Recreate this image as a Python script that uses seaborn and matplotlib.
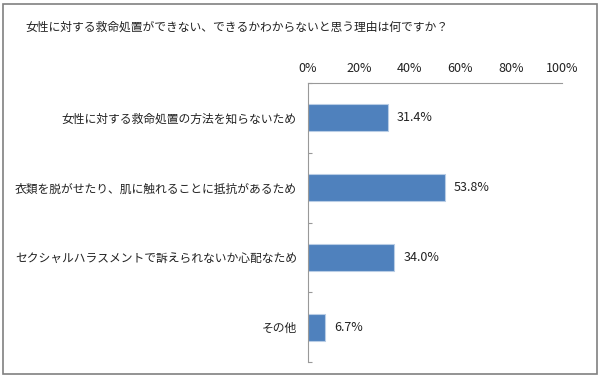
import pandas as pd
import seaborn as sns
import matplotlib.pyplot as plt
from matplotlib.patches import Rectangle
from matplotlib.ticker import FuncFormatter

title = "女性に対する救命処置ができない、できるかわからないと思う理由は何ですか？"
reasons = [
    "女性に対する救命処置の方法を知らないため",
    "衣類を脱がせたり、肌に触れることに抵抗があるため",
    "セクシャルハラスメントで訴えられないか心配なため",
    "その他",
]
percent = [31.4, 53.8, 34.0, 6.7]
xticks = [0, 20, 40, 60, 80, 100]

df = pd.DataFrame({"reason": reasons, "percent": percent})

sns.set_style("white")
plt.rcParams['font.family'] = ['Noto Sans CJK JP', 'DejaVu Sans']

fig = plt.figure(figsize=(6.01, 3.78), dpi=100)
ax = fig.add_axes([308/601, 1 - 362/378, (562-308)/601, (362-83)/378])

sns.barplot(data=df, x="percent", y="reason", orient="h", color="#4F81BD",
            width=0.39, edgecolor="#B9CDE5", linewidth=0.8, saturation=1, ax=ax)

ax.set_xlim(0, 100)
ax.set_ylim(3.5, -0.5)
ax.set_xticks(xticks)
ax.xaxis.set_major_formatter(FuncFormatter(lambda v, p: f"{v:.0f}%"))
ax.xaxis.tick_top()
ax.tick_params(axis="x", length=0, pad=6, labelsize=9, colors="#222222")
ax.tick_params(axis="y", length=0, pad=8, labelsize=8.5, colors="#222222")
ax.set_xlabel("")
ax.set_ylabel("")

# category boundary ticks on the left spine
ax.set_yticks([-0.5, 0.5, 1.5, 2.5, 3.5], minor=True)
ax.tick_params(axis="y", which="minor", direction="in", length=3, width=0.8, color="#999999", left=True)

for s in ["right", "bottom"]:
    ax.spines[s].set_visible(False)
for s in ["left", "top"]:
    ax.spines[s].set_color("#999999")
    ax.spines[s].set_linewidth(0.8)

for i, v in enumerate(percent):
    ax.text(v + 3.5, i, f"{v:.1f}%", va="center", ha="left", fontsize=9, color="#222222")

fig.text(25/601, 1 - 27/378, title, fontsize=8.5, va="center", ha="left", color="#222222")

fig.patches.append(Rectangle((3/601, 4/378), 594/601, 370/378, transform=fig.transFigure,
                             fill=False, edgecolor="#808080", linewidth=1.2))

fig.savefig("out.png", dpi=100)
